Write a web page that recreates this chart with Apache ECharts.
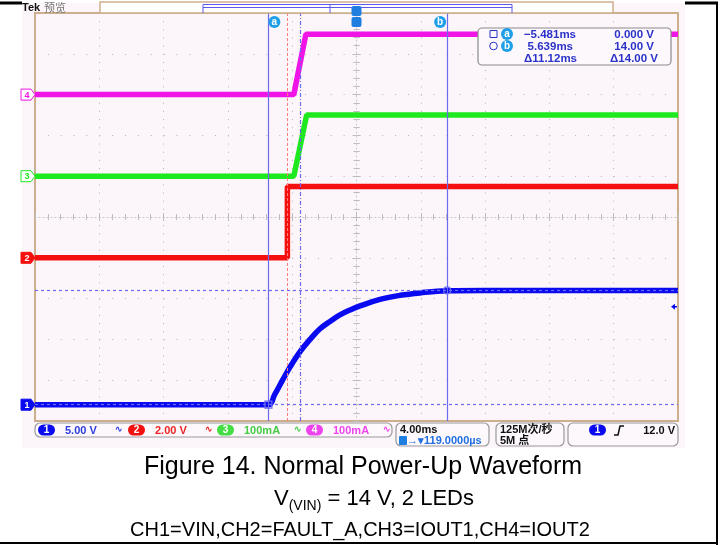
<!DOCTYPE html>
<html>
<head>
<meta charset="utf-8">
<script src="https://cdn.jsdelivr.net/npm/echarts@6/dist/echarts.min.js"></script>
<style>
  html, body { margin: 0; padding: 0; background: #fff; }
  #chart { width: 720px; height: 545px; }
</style>
</head>
<body>
<div id="chart"></div>
<script>
// 示波器屏幕：横轴 4 ms/格 共10格，纵轴 10 格
const timeMin = -20
const timeMax = 20
const timeStep = 4
const divMin = -5
const divMax = 5

// CH1 = VIN (5 V/格)
const ch1Scale = 5
const ch1Offset = -4.6
const ch1Time = [-20, -5.48, -5.1, -4.6, -4.14, -3.51, -2.89, -2.27, -1.65, -1.03, -0.4, 0.22, 1.46, 2.71, 3.95, 5.63, 8, 20]
const ch1Volts = [0, 0, 1.2, 3.0, 4.6, 6.5, 8.0, 9.3, 10.2, 11.0, 11.6, 12.1, 12.9, 13.4, 13.7, 13.95, 14.0, 14.0]

// CH2 = FAULT_A (2 V/格)
const ch2Scale = 2
const ch2Offset = -1.0
const ch2Time = [-20, -4.3, -4.3, 20]
const ch2Volts = [0, 0, 3.5, 3.5]

// CH3 = IOUT1 (100 mA/格)
const ch3Scale = 100
const ch3Offset = 1.0
const ch3Time = [-20, -3.9, -3.1, 20]
const ch3Amps = [0, 0, 150, 150]

// CH4 = IOUT2 (100 mA/格)
const ch4Scale = 100
const ch4Offset = 3.0
const ch4Time = [-20, -3.9, -3.15, 20]
const ch4Amps = [0, 0, 148, 148]

// 光标和标记线
const cursorA = -5.481
const cursorB = 5.639
const cursorAVolts = 0
const cursorBVolts = 14
const redMarkTime = -4.3
const blueMarkTime = -3.51
const triggerVolts = 12

const font = '"Liberation Sans", Arial, "Noto Sans CJK SC", sans-serif'
const blue = '#0a0af0'
const red = '#f51010'
const green = '#1ee81e'
const magenta = '#f014e6'
const cursorBlue = '#6b6bef'
const frameTan = '#cfae8c'

const toDiv = (times, vals, scale, offset) => times.map((t, i) => [t, vals[i] / scale + offset])

const chart = echarts.init(document.getElementById('chart'))

const hiddenAxis = {
  type: 'value',
  axisLabel: { show: false },
  splitLine: { show: false },
  axisLine: { show: false }
}

function traceSeries (name, data, color) {
  return {
    name: name,
    type: 'line',
    data: data,
    showSymbol: false,
    animation: false,
    z: 3,
    lineStyle: { color: color, width: 5.5 }
  }
}

chart.setOption({
  backgroundColor: '#fff',
  animation: false,
  grid: {
    left: 35,
    top: 13,
    width: 643,
    height: 408,
    show: true,
    borderColor: frameTan,
    borderWidth: 2,
    backgroundColor: 'transparent'
  },
  xAxis: [
    {
      ...hiddenAxis,
      min: timeMin,
      max: timeMax,
      interval: timeStep,
      position: 'bottom',
      axisTick: { show: true, inside: true, length: 4, lineStyle: { color: '#bdbdbd' } },
      minorTick: { show: true, splitNumber: 5, length: 3, lineStyle: { color: '#bdbdbd' } },
      splitLine: { show: true, lineStyle: { color: '#b4b4b4', width: 1, type: [1, 7.16] } }
    },
    {
      ...hiddenAxis,
      min: timeMin,
      max: timeMax,
      interval: timeStep,
      position: 'top',
      axisTick: { show: true, inside: true, length: 4, lineStyle: { color: '#bdbdbd' } },
      minorTick: { show: true, splitNumber: 5, length: 3, lineStyle: { color: '#bdbdbd' } }
    },
    {
      // 中心横线
      ...hiddenAxis,
      min: timeMin,
      max: timeMax,
      interval: timeStep,
      position: 'bottom',
      offset: -204,
      axisLine: { show: true, lineStyle: { color: '#c4c4c4', type: [1, 3] } },
      axisTick: { show: true, inside: true, length: 4, lineStyle: { color: '#bdbdbd' } },
      minorTick: { show: true, splitNumber: 5, length: 3, lineStyle: { color: '#bdbdbd' } }
    }
  ],
  yAxis: [
    {
      ...hiddenAxis,
      min: divMin,
      max: divMax,
      interval: 1,
      position: 'left',
      axisTick: { show: true, inside: true, length: 4, lineStyle: { color: '#bdbdbd' } },
      minorTick: { show: true, splitNumber: 5, length: 3, lineStyle: { color: '#bdbdbd' } },
      splitLine: { show: true, lineStyle: { color: '#b4b4b4', width: 1, type: [1, 11.86] } }
    },
    {
      ...hiddenAxis,
      min: divMin,
      max: divMax,
      interval: 1,
      position: 'right',
      axisTick: { show: true, inside: true, length: 4, lineStyle: { color: '#bdbdbd' } },
      minorTick: { show: true, splitNumber: 5, length: 3, lineStyle: { color: '#bdbdbd' } }
    },
    {
      // 中心竖线
      ...hiddenAxis,
      min: divMin,
      max: divMax,
      interval: 1,
      position: 'left',
      offset: -321.5,
      axisLine: { show: true, lineStyle: { color: '#c4c4c4', type: [1, 3] } },
      axisTick: { show: true, inside: true, length: 4, lineStyle: { color: '#bdbdbd' } },
      minorTick: { show: true, splitNumber: 5, length: 3, lineStyle: { color: '#bdbdbd' } }
    }
  ],
  series: [
    {
      name: 'cursors',
      type: 'line',
      data: [],
      z: 1,
      markLine: {
        silent: true,
        symbol: ['none', 'none'],
        label: { show: false },
        animation: false,
        data: [
          { xAxis: cursorA, lineStyle: { color: cursorBlue, type: 'solid', width: 1.2 } },
          { xAxis: cursorB, lineStyle: { color: cursorBlue, type: 'solid', width: 1.2 } },
          { xAxis: redMarkTime, lineStyle: { color: '#ff7a7a', type: [3, 2], width: 1 } },
          { xAxis: blueMarkTime, lineStyle: { color: cursorBlue, type: [4, 2, 1, 2], width: 1.2 } },
          { yAxis: cursorAVolts / ch1Scale + ch1Offset, lineStyle: { color: cursorBlue, type: [3, 3], width: 1.2 } },
          { yAxis: cursorBVolts / ch1Scale + ch1Offset, lineStyle: { color: cursorBlue, type: [3, 3], width: 1.2 } }
        ]
      }
    },
    traceSeries('CH4', toDiv(ch4Time, ch4Amps, ch4Scale, ch4Offset), magenta),
    traceSeries('CH3', toDiv(ch3Time, ch3Amps, ch3Scale, ch3Offset), green),
    traceSeries('CH2', toDiv(ch2Time, ch2Volts, ch2Scale, ch2Offset), red),
    {
      ...traceSeries('CH1', toDiv(ch1Time, ch1Volts, ch1Scale, ch1Offset), blue),
      smooth: 0.4
    }
  ]
})

// 把数据坐标换算成像素
const px = (t, d) => chart.convertToPixel({ gridIndex: 0 }, [t, d])
const gridTop = 13

function txt (x, y, text, color, size, opts) {
  return {
    type: 'text',
    z: 20,
    style: Object.assign({
      x: x,
      y: y,
      text: text,
      fill: color,
      font: 'bold ' + size + 'px ' + font,
      textAlign: 'left',
      textVerticalAlign: 'middle'
    }, opts || {})
  }
}

function pill (x, y, w, h, color, label) {
  return [
    { type: 'rect', z: 20, shape: { x: x, y: y - h / 2, width: w, height: h, r: h / 2 }, style: { fill: color } },
    txt(x + w / 2, y + 0.5, label, '#fff', 10, { textAlign: 'center' })
  ]
}

function badge (cx, cy, label) {
  return [
    { type: 'circle', z: 20, shape: { cx: cx, cy: cy, r: 6 }, style: { fill: '#1f9fe8' } },
    txt(cx, cy, label, '#fff', 10, { textAlign: 'center' })
  ]
}

function chMarker (y, color, label, filled) {
  const pts = [[21, y - 5.5], [31, y - 5.5], [35, y], [31, y + 5.5], [21, y + 5.5]]
  return [
    { type: 'polygon', z: 20, shape: { points: pts }, style: { fill: filled ? color : '#fff', stroke: color, lineWidth: 1 } },
    txt(27, y + 0.5, label, filled ? '#fff' : color, 9, { textAlign: 'center' })
  ]
}

const g = []
// 屏幕底色
g.push({ type: 'rect', z: -10, shape: { x: 22, y: 3, width: 663, height: 445 }, style: { fill: '#fcf5fa' } })
// 外框线
g.push({ type: 'line', z: 30, shape: { x1: 0, y1: 3, x2: 22, y2: 3 }, style: { stroke: '#000', lineWidth: 3 } })
g.push({ type: 'line', z: 30, shape: { x1: 685, y1: 3, x2: 718, y2: 3 }, style: { stroke: '#000', lineWidth: 3 } })
g.push({ type: 'line', z: 30, shape: { x1: 717, y1: 2, x2: 717, y2: 545 }, style: { stroke: '#000', lineWidth: 2 } })
g.push({ type: 'line', z: 30, shape: { x1: 0, y1: 543, x2: 718, y2: 543 }, style: { stroke: '#000', lineWidth: 2 } })

// 顶部记录条
g.push(txt(22, 8, 'Tek', '#111', 11))
g.push(txt(44, 8, '预览', '#777', 11, { font: '11px "Noto Sans CJK SC", sans-serif' }))
g.push({ type: 'rect', z: 20, shape: { x: 100, y: 2, width: 513, height: 11 }, style: { fill: '#fff', stroke: frameTan, lineWidth: 1.5 } })
g.push({ type: 'polyline', z: 21, shape: { points: [[203, 13], [203, 4.5], [512, 4.5], [512, 13]] }, style: { fill: null, stroke: '#5a5aee', lineWidth: 1 } })
g.push({ type: 'line', z: 21, shape: { x1: 203, y1: 7.5, x2: 512, y2: 7.5 }, style: { stroke: '#5a5aee', lineWidth: 1 } })
g.push({ type: 'line', z: 21, shape: { x1: 330, y1: 4.5, x2: 330, y2: 13 }, style: { stroke: '#5a5aee', lineWidth: 1 } })

// 触发位置 T 标记
const trigX = px(0, 0)[0]
for (const ty of [11, 22]) {
  g.push({ type: 'rect', z: 22, shape: { x: trigX - 5, y: ty - 5, width: 10, height: 10, r: 2 }, style: { fill: '#1f7fe0' } })
  g.push(txt(trigX, ty + 0.5, 'T', '#fff', 9, { textAlign: 'center' }))
}

// 光标 a / b 标签
const aPix = px(cursorA, cursorAVolts / ch1Scale + ch1Offset)
const bPix = px(cursorB, cursorBVolts / ch1Scale + ch1Offset)
g.push(...badge(aPix[0] + 6, gridTop + 9, 'a'))
g.push(...badge(bPix[0] - 7, gridTop + 9, 'b'))
g.push({ type: 'rect', z: 21, shape: { x: aPix[0] - 3.5, y: aPix[1] - 3.5, width: 7, height: 7 }, style: { fill: null, stroke: cursorBlue, lineWidth: 1.2 } })
g.push({ type: 'circle', z: 21, shape: { cx: bPix[0], cy: bPix[1], r: 3.5 }, style: { fill: null, stroke: cursorBlue, lineWidth: 1.2 } })

// 触发电平箭头
const trigLevel = px(timeMax, triggerVolts / ch1Scale + ch1Offset)
g.push({ type: 'polygon', z: 21, shape: { points: [[trigLevel[0] - 7, trigLevel[1]], [trigLevel[0] - 3, trigLevel[1] - 3], [trigLevel[0] - 3, trigLevel[1] + 3]] }, style: { fill: blue } })
g.push({ type: 'line', z: 21, shape: { x1: trigLevel[0] - 4, y1: trigLevel[1], x2: trigLevel[0] - 1, y2: trigLevel[1] }, style: { stroke: blue, lineWidth: 1.5 } })

// 左侧通道零位标记
g.push(...chMarker(px(0, ch4Offset)[1], magenta, '4', false))
g.push(...chMarker(px(0, ch3Offset)[1], green, '3', false))
g.push(...chMarker(px(0, ch2Offset)[1], red, '2', true))
g.push(...chMarker(px(0, ch1Offset)[1], blue, '1', true))

// 光标读数框
const roColor = '#2a32c8'
g.push({ type: 'rect', z: 20, shape: { x: 478, y: 28, width: 193, height: 37, r: 4 }, style: { fill: '#fdf8fc', stroke: '#8a8a8a', lineWidth: 1.2 } })
g.push({ type: 'rect', z: 21, shape: { x: 490, y: 30.5, width: 7, height: 7 }, style: { fill: null, stroke: roColor, lineWidth: 1 } })
g.push({ type: 'circle', z: 21, shape: { cx: 493.5, cy: 46, r: 3.8 }, style: { fill: null, stroke: roColor, lineWidth: 1 } })
g.push(...badge(507, 34, 'a'))
g.push(...badge(507, 46, 'b'))
const fmtMs = v => (v < 0 ? '\u2212' : '') + Math.abs(v).toFixed(3) + 'ms'
g.push(txt(576, 34.5, fmtMs(cursorA), roColor, 11.5, { textAlign: 'right' }))
g.push(txt(573, 46.5, fmtMs(cursorB), roColor, 11.5, { textAlign: 'right' }))
g.push(txt(577, 58.5, '\u0394' + (cursorB - cursorA).toFixed(2) + 'ms', roColor, 11.5, { textAlign: 'right' }))
g.push(txt(654, 34.5, cursorAVolts.toFixed(3) + ' V', roColor, 11.5, { textAlign: 'right' }))
g.push(txt(654, 46.5, cursorBVolts.toFixed(2) + ' V', roColor, 11.5, { textAlign: 'right' }))
g.push(txt(658, 58.5, '\u0394' + (cursorBVolts - cursorAVolts).toFixed(2) + ' V', roColor, 11.5, { textAlign: 'right' }))

// 底部通道状态栏
g.push({ type: 'rect', z: 20, shape: { x: 35, y: 423, width: 357, height: 14, r: 5 }, style: { fill: '#fdf8fc', stroke: '#999', lineWidth: 1.2 } })
const chStatus = [
  { x: 38, color: blue, text: '5.00 V', textColor: '#2a3be0' },
  { x: 128, color: red, text: '2.00 V', textColor: '#ee2222' },
  { x: 217, color: '#44dd44', text: '100mA', textColor: '#44cc44' },
  { x: 306, color: '#ee44ee', text: '100mA', textColor: '#ee44ee' }
]
chStatus.forEach((c, i) => {
  g.push(...pill(c.x, 430, 17, 11, c.color, String(i + 1)))
  g.push(txt(c.x + 27, 430.5, c.text, c.textColor, 11))
  g.push(txt(c.x + 77, 430, '\u223f', c.textColor, 9))
})
g.push({ type: 'rect', z: 20, shape: { x: 396, y: 423, width: 93, height: 23, r: 5 }, style: { fill: '#fdf8fc', stroke: '#999', lineWidth: 1.2 } })
g.push(txt(400, 429.5, '4.00ms', '#111', 11))
g.push({ type: 'rect', z: 21, shape: { x: 399, y: 436, width: 8, height: 9, r: 1 }, style: { fill: '#1f7fe0' } })
g.push(txt(403, 440.5, 'T', '#fff', 8, { textAlign: 'center' }))
g.push(txt(407, 441, '\u2192\u25be119.0000\u00b5s', '#1f6fe0', 11))
g.push({ type: 'rect', z: 20, shape: { x: 496, y: 423, width: 68, height: 23, r: 5 }, style: { fill: '#fdf8fc', stroke: '#999', lineWidth: 1.2 } })
g.push(txt(500, 429.5, '125M次/秒', '#111', 11))
g.push(txt(500, 441, '5M 点', '#111', 11))
g.push({ type: 'rect', z: 20, shape: { x: 568, y: 423, width: 110, height: 23, r: 5 }, style: { fill: '#fdf8fc', stroke: '#999', lineWidth: 1.2 } })
g.push(...pill(589, 430, 17, 11, blue, '1'))
g.push({ type: 'polyline', z: 21, shape: { points: [[614, 435], [618, 435], [620, 426], [624, 426]] }, style: { fill: null, stroke: '#111', lineWidth: 1.5 } })
g.push(txt(675, 430.5, triggerVolts.toFixed(1) + ' V', '#111', 11, { textAlign: 'right' }))

// 图题
g.push(txt(363, 467, 'Figure 14. Normal Power-Up Waveform', '#000', 25, { font: '25px ' + font, textAlign: 'center' }))
g.push({
  type: 'text',
  z: 20,
  style: {
    x: 374,
    y: 496,
    text: '{a|V}{b|(VIN)}{a| = 14 V, 2 LEDs}',
    textAlign: 'center',
    textVerticalAlign: 'middle',
    rich: {
      a: { fontSize: 22, fontFamily: font, fill: '#000', lineHeight: 28, verticalAlign: 'bottom' },
      b: { fontSize: 14, fontFamily: font, fill: '#000', lineHeight: 28, verticalAlign: 'bottom', padding: [0, 0, -3, 0] }
    }
  }
})
g.push(txt(360, 530, 'CH1=VIN,CH2=FAULT_A,CH3=IOUT1,CH4=IOUT2', '#000', 20, { font: '20px ' + font, textAlign: 'center' }))

chart.setOption({ graphic: g })
</script>
</body>
</html>
